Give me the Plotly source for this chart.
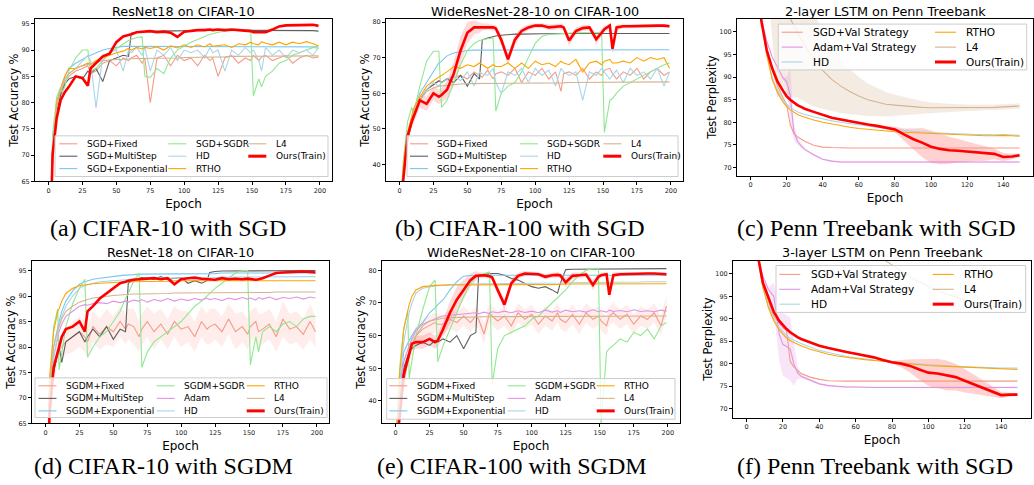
import plotly.graph_objects as go

W, H = 1034, 485

# ---------------- epochs ----------------
CIFAR_EPOCHS = [0, 3, 6, 9, 10, 12, 15, 20, 25, 29,
                31, 35, 40, 45, 50, 55, 59, 61, 65, 69,
                71, 75, 80, 85, 90, 95, 100, 105, 110, 115,
                119, 121, 125, 130, 135, 140, 145, 149, 151, 155,
                157, 160, 165, 170, 175, 180, 185, 190, 195, 199]
PTB_EPOCHS = [0, 3, 6, 9, 12, 15, 18, 20, 22, 24,
              26, 28, 30, 35, 40, 45, 50, 55, 60, 65,
              70, 75, 80, 85, 90, 95, 100, 105, 110, 115,
              120, 125, 130, 135, 140, 145, 149]

# ---------------- (a) ResNet18 / CIFAR-10 / SGD ----------------
A_FIXED = [45, 70, 78, 82, 82.5, 84, 85, 86, 86.5, 87,
           85.5, 86, 87.5, 88, 87, 88.5, 88, 88.5, 89, 87.5,
           88.5, 80, 88.5, 89, 87, 89, 88, 88.5, 87, 89,
           88, 88.5, 85, 88.5, 89, 87.5, 88.5, 88, 89, 88,
           88.7, 89, 88, 88.5, 89, 87.5, 88.5, 89, 88.5, 88.7]
A_MULTI = [45, 70, 78, 81.5, 82, 83.5, 84.5, 85, 84.5, 86,
           85.5, 86.5, 84, 88, 88.5, 89, 88.8, 93.2, 93.4, 93.5,
           93.5, 93.6, 93.6, 93.6, 93.7, 93.7, 93.7, 93.7, 93.8, 93.8,
           93.8, 93.8, 93.8, 93.8, 93.8, 93.8, 93.8, 93.8, 93.8, 93.8,
           93.8, 93.8, 93.8, 93.8, 93.7, 93.7, 93.7, 93.7, 93.7, 93.6]
A_EXP = [45, 72, 80, 83, 83.5, 85, 86.5, 87.5, 88.3, 88.8,
         89, 89.5, 90, 90.3, 90.5, 90.7, 90.7, 90.7, 90.7, 90.7,
         90.7, 90.7, 90.7, 90.7, 90.7, 90.7, 90.7, 90.7, 90.7, 90.7,
         90.7, 90.7, 90.7, 90.7, 90.7, 90.7, 90.7, 90.7, 90.7, 90.7,
         90.7, 90.7, 90.7, 90.7, 90.7, 90.7, 90.6, 90.6, 90.6, 90.6]
A_SGDR = [45, 74, 81, 83, 82, 83, 86, 88.5, 90, 90,
          86, 86.5, 88, 89.5, 90.3, 91.2, 91.8, 92, 92.4, 92.5,
          85, 84.8, 86.5, 85.5, 88.5, 90, 90.8, 91.5, 92, 92.6,
          93, 93.1, 93.4, 93.6, 93.7, 93.8, 93.8, 93.9, 81.3, 84.5,
          83, 85, 86, 87.5, 88, 89, 89.5, 90, 90.5, 90.3]
A_HD = [45, 72, 80, 83, 83.5, 84.5, 85.5, 86.5, 88, 89,
        88, 79, 89, 89.5, 90, 86, 90, 89.5, 90.5, 89,
        90.5, 86, 90, 89, 90.5, 88, 90, 89.5, 90, 88.5,
        90.5, 89.5, 90, 86, 90, 89, 90.5, 89.5, 90, 88,
        86, 90.5, 89, 90, 88.5, 90, 89.5, 90, 89, 90.5]
A_RTHO = [45, 70, 80, 83, 83.5, 85, 86.5, 86.5, 87, 87.5,
          87.3, 88, 88.5, 89, 89.5, 89.8, 90.3, 90, 90.5, 90.2,
          90.5, 90.3, 90.6, 90, 90.8, 90.4, 91, 90.5, 91, 90.6,
          91.2, 90.7, 90.8, 91, 90.5, 91.2, 91, 91.5, 91.2, 91,
          91.6, 91.3, 91, 91.5, 91, 91.5, 91.2, 91.6, 91.2, 90.8]
A_L4 = [45, 68, 79, 82.5, 83, 84.5, 85.5, 86.5, 87, 87.3,
        87.4, 87.6, 88, 88.1, 88.2, 88.3, 88.3, 88.3, 88.4, 88.4,
        88.4, 88.5, 88.5, 88.5, 88.5, 88.5, 88.6, 88.6, 88.6, 88.7,
        88.7, 88.7, 88.7, 88.7, 88.8, 88.8, 88.8, 88.8, 88.8, 88.8,
        88.8, 88.9, 88.9, 88.9, 88.9, 88.9, 88.9, 88.9, 88.9, 88.9]
A_OURS = [40, 70, 77, 80.5, 81, 82, 83, 85, 84.7, 83.2,
          86.5, 87.5, 88.8, 89.3, 91.5, 92.6, 92.8, 93, 93.4, 93.5,
          93.5, 93.6, 93.4, 93.5, 93.3, 92.5, 93.5, 93.7, 93.8, 93.8,
          93.9, 93.8, 93.9, 93.8, 93.9, 93.8, 93.7, 93.6, 93.4, 93.4,
          93.3, 93.4, 93.9, 94.5, 94.7, 94.7, 94.7, 94.7, 94.8, 94.6]

# ---------------- (b) WideResNet / CIFAR-100 / SGD ----------------
B_FIXED = [25, 38, 47, 52, 53, 55, 58, 61, 62.5, 63.5,
           63, 64, 64.5, 65, 64, 66, 65, 64.5, 66.5, 64,
           65.5, 66, 65, 67, 63, 66, 65, 67, 64, 66,
           60.5, 65.5, 66, 65, 67, 64, 66, 65, 66.5, 67,
           65.5, 64, 66, 65, 67, 64, 66, 67, 65, 66]
B_MULTI = [25, 38, 47, 52, 53, 55, 58, 61, 62.5, 63.5,
           63, 64, 63, 65, 62, 65.5, 64, 75, 75.5, 76,
           76.1, 76.3, 76.5, 76.6, 76.6, 76.7, 76.7, 76.7, 76.7, 76.8,
           76.8, 76.8, 76.8, 76.8, 76.8, 76.8, 76.8, 76.8, 76.8, 76.8,
           76.8, 76.8, 76.8, 76.8, 76.8, 76.8, 76.8, 76.8, 76.8, 76.8]
B_EXP = [25, 40, 48, 54, 55, 57, 60, 63, 66, 68.5,
         69, 70.5, 71.3, 71.7, 72, 72.1, 72.1, 72.1, 72.1, 72.1,
         72.1, 72.1, 72.1, 72.1, 72.1, 72.1, 72.1, 72.1, 72.1, 72.1,
         72.2, 72.2, 72.2, 72.2, 72.2, 72.2, 72.2, 72.2, 72.2, 72.2,
         72.2, 72.2, 72.2, 72.2, 72.2, 72.2, 72.2, 72.2, 72.2, 72.2]
B_SGDR = [25, 42, 52, 56, 55, 57, 62, 69, 71.8, 71.8,
          56, 58, 63, 68, 72, 74, 74.8, 75, 75.3, 75.5,
          55, 60, 62, 63, 66, 70, 74, 76, 76.5, 76.6,
          76.7, 76.8, 77, 77, 77, 77, 77, 77, 49, 58,
          58.5, 60, 62, 63, 64, 65, 66, 67, 68, 68.5]
B_HD = [25, 40, 48, 53, 54, 56, 58, 61, 63, 62,
        63, 64, 65, 63.5, 66, 62, 66, 65.5, 65, 67,
        63, 60, 66, 65, 67, 63, 67, 65, 66.5, 62,
        67, 66, 65, 66, 58, 66, 65, 67, 66, 64,
        65, 66.5, 63, 67, 65, 66, 64, 67, 62, 66]
B_RTHO = [25, 40, 49, 54, 55, 57, 59, 62, 63.5, 64.5,
          65, 66, 67.5, 67, 68, 67.5, 68.5, 68, 67, 68,
          67.5, 67.5, 68.5, 67, 68.5, 67, 69, 68, 68.5, 67.5,
          69, 68.5, 68, 69.5, 66, 68.5, 69, 68, 69, 69.5,
          68.5, 68.5, 69, 68.5, 70, 69, 70, 69.5, 70, 67]
B_L4 = [25, 38, 47, 52, 53, 55.5, 58, 60.5, 61.5, 62,
        62.1, 62.3, 62.5, 62.6, 62.7, 62.7, 62.7, 62.7, 62.7, 62.7,
        62.7, 62.7, 62.8, 62.8, 62.8, 62.8, 62.8, 62.9, 62.9, 62.9,
        62.9, 62.9, 63, 63, 63, 63, 63, 63.1, 63.1, 63.1,
        63.1, 63.1, 63.1, 63.2, 63.2, 63.2, 63.2, 63.2, 63.2, 63.2]
B_OURS = [25, 36, 48, 52, 53, 55, 58, 57, 60, 59,
          59.5, 61, 65.5, 72, 77, 78.5, 78.5, 78.6, 78.7, 78.5,
          78.2, 75, 69.5, 75, 77.5, 78.5, 79, 79, 78.5, 78.6,
          78.8, 78.5, 74.8, 77.5, 78.3, 78.5, 75.2, 77, 78, 79,
          72.5, 78.5, 78.8, 78.8, 78.9, 78.9, 78.9, 79, 79, 78.8]
B_OURS_SD = [0, 0, 1, 1.5, 1.5, 2, 2, 2, 2, 2,
             2, 2.5, 3.5, 4, 3, 2, 1.5, 1, 0.8, 0.8,
             1, 1.5, 1.5, 1.5, 1, 0.8, 0.6, 0.6, 0.8, 0.8,
             0.8, 0.8, 1.5, 1, 0.8, 0.8, 1.5, 1, 0.8, 0.6,
             1.5, 0.8, 0.6, 0.5, 0.5, 0.5, 0.5, 0.5, 0.5, 0.5]

# ---------------- (c) 2-layer LSTM / PTB ----------------
C_SGDVAL = [140, 118, 104, 96, 91.5, 88, 85.5, 84, 79.5, 77.5,
            76.8, 76.2, 75.8, 74.9, 74.5, 74.4, 74.3, 74.3, 74.3, 74.3,
            74.3, 74.3, 74.3, 74.3, 74.3, 74.3, 74.3, 74.3, 74.3, 74.3,
            74.3, 74.3, 74.3, 74.3, 74.3, 74.3, 74.3]
C_ADAMVAL = [140, 115, 103, 98, 94.5, 92, 89.8, 89, 86, 78,
             75.8, 74.8, 74, 72.8, 71.8, 71.4, 71.2, 71.2, 71.2, 71.2,
             71.2, 71.2, 71.2, 71.2, 71.2, 71.2, 71.2, 71.2, 71.2, 71.2,
             71.2, 71.2, 71.2, 71.2, 71.2, 71.2, 71.2]
C_ADAMVAL_SD = [0, 0, 0, 0, 0, 0, 0.3, 1, 6, 2,
                0.8, 0.5, 0.3, 0.2, 0.2, 0.2, 0.2, 0.2, 0.2, 0.2,
                0.2, 0.2, 0.2, 0.2, 0.2, 0.2, 0.2, 0.2, 0.2, 0.2,
                0.2, 0.2, 0.2, 0.2, 0.2, 0.2, 0.2]
C_HD = [140, 116, 103, 95, 90, 87, 85, 84, 83.3, 82.8,
        82.3, 82, 81.7, 81.2, 80.7, 80.3, 80, 79.7, 79.4, 79.1,
        78.9, 78.7, 78.4, 78.2, 78, 77.8, 77.7, 77.6, 77.5, 77.4,
        77.4, 77.3, 77.3, 77.2, 77.3, 77.2, 77.1]
C_RTHO = [140, 116, 103, 95, 89.5, 86.5, 84.5, 83.5, 82.8, 82.2,
          81.7, 81.4, 81.1, 80.5, 80, 79.6, 79.2, 78.9, 78.6, 78.4,
          78.2, 78, 77.9, 77.8, 77.7, 77.6, 77.5, 77.4, 77.3, 77.2,
          77.2, 77.1, 77, 77, 77.1, 77, 76.9]
C_L4 = [200, 170, 150, 135, 125, 115, 108, 105, 103, 101.5,
        100, 98.5, 97, 94, 91.5, 89.5, 88, 86.8, 85.8, 85,
        84.5, 84, 83.8, 83.6, 83.4, 83.3, 83.2, 83.2, 83.2, 83.2,
        83.2, 83.2, 83.3, 83.3, 83.4, 83.5, 83.6]
C_L4_SD = [30, 30, 30, 30, 30, 30, 20, 19, 17.5, 16,
           14.5, 13.5, 12.5, 10.5, 8.5, 7, 6, 5, 4.2, 3.6,
           3.1, 2.7, 2.3, 2, 1.7, 1.4, 1.2, 1, 0.9, 0.8,
           0.7, 0.7, 0.6, 0.6, 0.6, 0.6, 0.6]
C_OURS = [140, 115, 102.5, 96, 92, 89, 87, 85.8, 85, 84.3,
          83.8, 83.4, 83, 82.3, 81.6, 81, 80.6, 80.2, 79.8, 79.5,
          79.2, 78.8, 78.4, 77.3, 76.3, 75.5, 74.6, 74.1, 73.8, 73.7,
          73.5, 73.3, 73.1, 73, 72.3, 72.4, 72.7]
C_OURS_SD = [0, 0, 0, 0, 0.2, 0.2, 0.2, 0.2, 0.2, 0.2,
             0.2, 0.2, 0.2, 0.2, 0.2, 0.2, 0.2, 0.2, 0.2, 0.2,
             0.2, 0.3, 0.6, 1.3, 2.3, 3.2, 3.6, 3.4, 3, 2.6,
             2.2, 1.9, 1.6, 1.2, 0.9, 0.6, 0.4]

# ---------------- (d) ResNet-18 / CIFAR-10 / SGDM ----------------
D_FIXED = [45, 68, 75, 79, 79.5, 80, 81, 82, 83, 82,
           81, 84, 82.5, 84, 83, 85, 83.5, 84.5, 84, 82,
           83.5, 85, 83, 84.5, 82.5, 85, 83.5, 84, 82, 85,
           83.5, 84, 84.5, 83, 85.5, 83, 84, 82.5, 84, 85,
           83, 83.5, 84.5, 82, 85.5, 83.5, 84, 82.5, 85, 83]
D_FIXED_SD = [0, 1, 2, 2, 2, 2.5, 2.5, 3, 3, 3,
              3, 3, 3, 3.5, 3, 3, 3, 3, 3.5, 3,
              3, 3, 3.5, 3, 3, 3, 3.5, 3, 3, 3,
              3, 3.5, 3, 3, 3, 3.5, 3, 3, 3, 3,
              3.5, 3, 3, 3, 3.5, 3, 3, 3, 3.5, 3]
D_MULTI = [45, 68, 75, 79, 80, 77, 81, 82, 83, 81,
           82, 83.5, 82, 84, 81.5, 83.5, 83, 92.5, 93.3, 93.5,
           93.6, 93.5, 93.3, 93.8, 93.2, 93.5, 93.6, 92.5, 93, 92.5,
           93, 94.6, 94.8, 94.9, 94.9, 95, 95, 95, 95, 95,
           95, 95, 95, 95, 95, 95, 95, 95, 95, 95]
D_EXP = [45, 70, 80, 84, 85, 87, 89, 91, 92.3, 92.8,
         93, 93.3, 93.5, 93.7, 93.8, 94, 94.1, 94.1, 94.2, 94.3,
         94.3, 94.3, 94.4, 94.4, 94.4, 94.4, 94.4, 94.4, 94.4, 94.4,
         94.4, 94.4, 94.4, 94.5, 94.5, 94.5, 94.5, 94.5, 94.5, 94.5,
         94.5, 94.5, 94.5, 94.5, 94.5, 94.5, 94.5, 94.5, 94.5, 94.5]
D_SGDR = [45, 72, 84, 87.5, 75.5, 79, 84, 88.5, 91.5, 93.3,
          78, 80, 82, 83, 85, 87, 89.5, 90.5, 93, 94.5,
          76, 79, 81, 82, 83, 84, 85, 86.5, 88, 89,
          90, 90.5, 91.5, 92.5, 93.5, 94.5, 95, 95, 76.5, 82,
          79, 83, 84, 83, 84.5, 85, 84, 85.5, 86, 86]
D_ADAM = [45, 70, 78, 82, 83, 84.5, 86, 87, 88, 88.3,
          88.2, 88.5, 88.7, 88.5, 89, 88.7, 89, 88.8, 89.2, 89,
          89.3, 88.8, 89.3, 89, 89.5, 89, 89.4, 89.1, 89.5, 89.2,
          89.6, 89.3, 89.5, 89.1, 89.6, 89.3, 89.7, 89.4, 89.6, 89.2,
          89.7, 89.4, 89.8, 89.3, 89.7, 89.5, 89.8, 89.4, 89.8, 89.6]
D_HD = [45, 70, 78, 83, 84, 86, 88, 90, 91.5, 92,
        92.2, 92.5, 92.8, 92.9, 93, 93.2, 93.3, 93.3, 93.4, 93.4,
        93.4, 93.5, 93.5, 93.5, 93.5, 93.6, 93.6, 93.6, 93.6, 93.6,
        93.6, 93.6, 93.6, 93.7, 93.7, 93.7, 93.7, 93.7, 93.7, 93.7,
        93.7, 93.7, 93.7, 93.7, 93.8, 93.8, 93.8, 93.8, 93.8, 93.8]
D_RTHO = [45, 74, 83, 87, 87.5, 89, 90.5, 91.5, 92, 92.2,
          92.3, 92.4, 92.5, 92.6, 92.7, 92.7, 92.8, 92.8, 92.8, 92.8,
          92.9, 92.9, 92.9, 92.9, 92.9, 93, 93, 93, 93, 93,
          93, 93, 93, 93, 93, 93, 93, 93, 93, 93,
          93, 93, 93, 93, 93, 93, 93, 93, 93, 93]
D_L4 = [45, 72, 80, 83.5, 84, 85.5, 87, 88, 88.8, 89.2,
        89.3, 89.6, 89.8, 90, 90.1, 90.2, 90.3, 90.3, 90.4, 90.4,
        90.4, 90.5, 90.5, 90.5, 90.5, 90.6, 90.6, 90.6, 90.6, 90.6,
        90.6, 90.6, 90.7, 90.7, 90.7, 90.7, 90.7, 90.7, 90.7, 90.7,
        90.7, 90.7, 90.7, 90.8, 90.8, 90.8, 90.8, 90.8, 90.8, 90.8]
D_OURS = [40, 67, 76, 79, 80, 82, 83.5, 84, 85, 83,
          87, 88, 89.5, 90.5, 91.5, 92.5, 92.8, 93, 93.2, 93.3,
          93.3, 93.4, 93.5, 93.3, 93.5, 92.3, 93.3, 93.5, 93.6, 93.4,
          93.3, 93.2, 93.2, 93.5, 93.3, 93.4, 93.3, 93.4, 93.3, 93.2,
          93.3, 93.5, 94, 94.5, 94.6, 94.7, 94.8, 94.8, 94.7, 94.6]

# ---------------- (e) WideResNet / CIFAR-100 / SGDM ----------------
E_FIXED = [25, 40, 50, 54, 55, 57, 60, 62, 63, 64,
           63.5, 63.5, 65, 64, 66, 64, 66, 65, 60.5, 67,
           66, 64.5, 66, 63, 67, 65, 66.5, 63.5, 66, 64.5,
           67, 65, 64, 66.5, 63.5, 67, 65, 66, 64.5, 63,
           66, 67, 65, 66.5, 63.5, 66, 65, 67, 63, 69]
E_FIXED_SD = [0, 2, 3, 3, 3, 3, 3, 3, 3, 3,
              3, 3, 3, 3, 3, 3, 3, 3, 3, 3,
              3, 3, 3, 3, 3, 3, 3, 3, 3, 3,
              3, 3, 3, 3, 3, 3, 3, 3, 3, 3,
              3, 3, 3, 3, 3, 3, 3, 3, 3, 3]
E_MULTI = [25, 40, 50, 54, 55, 56, 57, 58, 57, 58.5,
           58, 59, 58, 60, 56, 60, 61, 78.5, 78.8, 78.9,
           79, 79, 78.5, 77.5, 77, 76, 75, 74.5, 75, 74,
           73, 76, 80.2, 80.3, 80.3, 80.4, 80.4, 80.4, 80.4, 80.5,
           80.5, 80.5, 80.5, 80.5, 80.5, 80.5, 80.5, 80.5, 80.5, 80.5]
E_EXP = [25, 42, 55, 58, 58.5, 60, 62, 64, 67, 68.5,
         69.5, 71, 74, 76.5, 78.2, 78.4, 78.5, 78.5, 78.5, 78.5,
         78.5, 78.5, 78.5, 78.5, 78.5, 78.5, 78.5, 78.5, 78.5, 78.5,
         78.5, 78.5, 78.5, 78.5, 78.5, 78.5, 78.5, 78.5, 78.5, 78.5,
         78.5, 78.5, 78.5, 78.5, 78.5, 78.5, 78.5, 78.5, 78.5, 78.5]
E_SGDR = [25, 50, 62, 67.5, 47, 52, 60, 68, 75, 77,
          52, 57, 62, 67, 72, 76, 78, 78.5, 79, 79.5,
          45, 56, 60, 61, 62, 63, 65, 66, 68, 70,
          71.5, 72.5, 74, 76.5, 78.5, 80, 80.5, 80.6, 33, 55,
          56, 57, 59, 58, 61, 60, 62, 59, 63, 64]
E_ADAM = [25, 42, 52, 56, 57, 59, 61.5, 63.5, 64.5, 65.3,
          65.5, 66, 66.2, 66.5, 66.5, 66.8, 67, 66.7, 67.2, 66.8,
          67.3, 67, 67.5, 67, 67.6, 67.1, 67.5, 67, 67.8, 67.2,
          67.6, 67.1, 67.8, 67.3, 67.6, 67.2, 67.9, 67.3, 67.6, 67.2,
          67.8, 67.4, 67.7, 67.3, 67.9, 67.4, 67.6, 67.3, 67.8, 67.5]
E_HD = [25, 45, 58, 65, 67, 70, 73, 74.5, 75, 75.2,
        75.3, 75.5, 75.6, 75.7, 75.8, 75.8, 75.8, 75.8, 75.9, 75.9,
        75.9, 75.9, 75.9, 76, 76, 76, 76, 76, 76.1, 76.1,
        76.1, 76.1, 76.2, 76.2, 76.2, 76.2, 76.3, 76.3, 76.3, 76.3,
        76.3, 76.3, 76.4, 76.4, 76.4, 76.4, 76.5, 76.5, 76.5, 76.5]
E_RTHO = [25, 48, 62, 68, 69.5, 72, 74, 75, 75.3, 75.4,
          75.4, 75.5, 75.5, 75.5, 75.5, 75.5, 75.6, 75.6, 75.6, 75.6,
          75.6, 75.6, 75.6, 75.7, 75.7, 75.7, 75.7, 75.7, 75.7, 75.7,
          75.7, 75.7, 75.8, 75.8, 75.8, 75.8, 75.8, 75.8, 75.8, 75.8,
          75.8, 75.8, 75.9, 75.9, 75.9, 75.9, 75.9, 75.9, 75.9, 75.9]
E_L4 = [25, 35, 45, 52, 54, 57, 60, 63, 64.5, 64.9,
        65, 65.3, 65.5, 65.6, 65.7, 65.7, 65.8, 65.8, 65.8, 65.8,
        65.8, 65.8, 65.9, 65.9, 65.9, 65.9, 66, 66, 66, 66,
        66, 66, 66, 66, 66, 66, 66, 66, 66, 66,
        66, 66, 66, 66, 66, 66, 66, 66, 66, 66]
E_OURS = [25, 35, 48, 53, 54, 57.5, 58, 58, 59, 58,
          58.5, 62, 67, 71, 74, 77, 78.3, 78.4, 78.5, 78.2,
          77.8, 74, 69.5, 76, 78.3, 79, 79, 78.8, 78, 78.5,
          78.6, 78.4, 76.3, 78.3, 78.5, 78.7, 75.5, 78, 78.5, 78.8,
          72.5, 78.5, 78.8, 78.9, 78.9, 79, 79, 79, 79, 78.8]
E_OURS_SD = [0, 0, 1, 1.5, 1.5, 2, 2, 2, 2, 2,
             2, 2.5, 3.5, 4, 3, 2, 1.5, 1, 0.8, 0.8,
             1, 1.5, 1.5, 1.5, 1, 0.8, 0.6, 0.6, 0.8, 0.8,
             0.8, 0.8, 1.5, 1, 0.8, 0.8, 1.5, 1, 0.8, 0.6,
             1.5, 0.8, 0.6, 0.5, 0.5, 0.5, 0.5, 0.5, 0.5, 0.5]

# ---------------- (f) 3-layer LSTM / PTB ----------------
F_SGDVAL = [140, 118, 105, 98, 94, 90.5, 89, 88, 87.5, 80.5,
            79.3, 78.5, 77.8, 77, 76.5, 76.2, 76.1, 76.1, 76.1, 76.1,
            76.1, 76.1, 76.1, 76.1, 76.1, 76.1, 76.1, 76.1, 76.1, 76.1,
            76.1, 76.1, 76.1, 76.1, 76.1, 76.1, 76.1]
F_ADAMVAL = [140, 115, 104, 99.5, 96.5, 95, 86.5, 84.3, 83.8, 83.3,
             80, 78, 77.2, 76.3, 75.5, 75.1, 74.9, 74.8, 74.8, 74.7,
             74.7, 74.7, 74.7, 74.7, 74.7, 74.7, 74.7, 74.7, 74.7, 74.7,
             74.7, 74.7, 74.7, 74.7, 74.7, 74.7, 74.7]
F_ADAMVAL_SD = [0, 0, 0, 0, 0.5, 3, 6, 7, 7, 7,
                5, 1.5, 0.5, 0.3, 0.2, 0.2, 0.2, 0.2, 0.2, 0.2,
                0.2, 0.2, 0.2, 0.2, 0.2, 0.2, 0.2, 0.2, 0.2, 0.2,
                0.2, 0.2, 0.2, 0.2, 0.2, 0.2, 0.2]
F_HD = [140, 117, 104, 97, 93, 90, 88, 87, 86.2, 85.6,
        85.2, 84.8, 84.5, 83.7, 83, 82.5, 82, 81.6, 81.3, 81,
        80.8, 80.6, 80.4, 80.2, 80, 79.9, 79.8, 79.6, 79.5, 79.4,
        79.3, 79.2, 79.1, 79, 79, 79, 79]
F_RTHO = [140, 117, 104, 97, 92.5, 89.5, 87.5, 86.5, 85.7, 85.1,
          84.7, 84.3, 84, 83.2, 82.6, 82.1, 81.7, 81.4, 81.1, 80.9,
          80.7, 80.5, 80.3, 80.1, 79.9, 79.7, 79.6, 79.5, 79.4, 79.3,
          79.2, 79.1, 79, 78.9, 78.8, 78.8, 78.7]
F_L4 = [250, 220, 200, 185, 170, 160, 150, 145, 140, 136,
        132, 129, 126, 120, 116, 113, 110.5, 108.5, 106.8, 105.3,
        104.2, 103.3, 102, 100.6, 99.3, 98.2, 97.2, 96.3, 95.5, 94.8,
        94.2, 93.7, 93.2, 92.8, 92.5, 92.2, 92]
F_OURS = [140, 116, 104.5, 98, 94.8, 91.5, 89.5, 88.5, 87.7, 87,
          86.4, 85.9, 85.5, 84.7, 84, 83.5, 83, 82.6, 82.2, 81.8,
          81.4, 80.8, 80.3, 80, 79.5, 78.7, 78, 77.8, 77.4, 77,
          76.2, 75.4, 74.6, 73.8, 73, 73.1, 73.1]
F_OURS_SD = [0, 0, 0, 0, 0.2, 0.2, 0.2, 0.2, 0.2, 0.2,
             0.2, 0.2, 0.2, 0.2, 0.2, 0.2, 0.2, 0.2, 0.2, 0.2,
             0.2, 0.2, 0.3, 0.8, 1.5, 2.3, 3, 3.3, 3.3, 3,
             2.6, 2.2, 1.7, 1.2, 0.7, 0.4, 0.3]

# ---------------- labels ----------------
TITLES = ["ResNet18 on CIFAR-10", "WideResNet-28-10 on CIFAR-100", "2-layer LSTM on Penn Treebank",
          "ResNet-18 on CIFAR-10", "WideResNet-28-10 on CIFAR-100", "3-layer LSTM on Penn Treebank"]
CAPTIONS = ["(a) CIFAR-10 with SGD", "(b) CIFAR-100 with SGD", "(c) Penn Treebank with SGD",
            "(d) CIFAR-10 with SGDM", "(e) CIFAR-100 with SGDM", "(f) Penn Treebank with SGD"]
CIFAR_XTICKS = [0, 25, 50, 75, 100, 125, 150, 175, 200]
PTB_XTICKS = [0, 20, 40, 60, 80, 100, 120, 140]

# ---------------- styles ----------------
COL_FIX = "#f59a86"
COL_MUL = "#5e5e5e"
COL_EXP = "#7cc6ee"
COL_SGDR = "#8fe88f"
COL_HD = "#a9d5e8"
COL_RTHO = "#ffa500"
COL_L4 = "#d4b48f"
COL_ADAM = "#e194e1"
COL_OUR = "#ff0000"
BAND_OUR = "rgba(255,0,0,0.15)"
BAND_FIX = "rgba(250,128,114,0.14)"

for arr in [A_FIXED, A_MULTI, A_EXP, A_SGDR, A_HD, A_RTHO, A_L4, A_OURS,
            B_FIXED, B_MULTI, B_EXP, B_SGDR, B_HD, B_RTHO, B_L4, B_OURS, B_OURS_SD,
            D_FIXED, D_FIXED_SD, D_MULTI, D_EXP, D_SGDR, D_ADAM, D_HD, D_RTHO, D_L4, D_OURS,
            E_FIXED, E_FIXED_SD, E_MULTI, E_EXP, E_SGDR, E_ADAM, E_HD, E_RTHO, E_L4, E_OURS, E_OURS_SD]:
    assert len(arr) == len(CIFAR_EPOCHS), len(arr)
for arr in [C_SGDVAL, C_ADAMVAL, C_ADAMVAL_SD, C_HD, C_RTHO, C_L4, C_L4_SD, C_OURS, C_OURS_SD,
            F_SGDVAL, F_ADAMVAL, F_ADAMVAL_SD, F_HD, F_RTHO, F_L4, F_OURS, F_OURS_SD]:
    assert len(arr) == len(PTB_EPOCHS), len(arr)

# series: (name, x, y, color, width, sd, band_rgba)
PANELS = [
    dict(box=(35, 19, 332, 183), xr=[-9.95, 208.95], yr=[65, 95.94], yt=[65, 70, 75, 80, 85, 90, 95],
         xt=CIFAR_XTICKS, ytitle="Test Accuracy %", ty=11.7, cap=(168, 230),
         series=[("SGD+Fixed", CIFAR_EPOCHS, A_FIXED, COL_FIX, 1.1, None, None),
                 ("SGD+MultiStep", CIFAR_EPOCHS, A_MULTI, COL_MUL, 1.1, None, None),
                 ("SGD+Exponential", CIFAR_EPOCHS, A_EXP, COL_EXP, 1.1, None, None),
                 ("SGD+SGDR", CIFAR_EPOCHS, A_SGDR, COL_SGDR, 1.1, None, None),
                 ("HD", CIFAR_EPOCHS, A_HD, COL_HD, 1.1, None, None),
                 ("RTHO", CIFAR_EPOCHS, A_RTHO, COL_RTHO, 1.1, None, None),
                 ("L4", CIFAR_EPOCHS, A_L4, COL_L4, 1.1, None, None),
                 ("Ours(Train)", CIFAR_EPOCHS, A_OURS, COL_OUR, 2.6, None, None)],
         leg=dict(box=(55, 137, 328, 178), cols=[59.3, 168.3, 248.3], rows=[145, 157.5, 170], fs=9,
                  grid=[["SGD+Fixed", "SGD+MultiStep", "SGD+Exponential"], ["SGD+SGDR", "HD", "RTHO"],
                        ["L4", "Ours(Train)"]])),
    dict(box=(386, 19, 683, 183), xr=[-9.95, 208.95], yr=[35.2, 80.9], yt=[40, 50, 60, 70, 80],
         xt=CIFAR_XTICKS, ytitle="Test Accuracy %", ty=11.7, cap=(520, 230),
         series=[("SGD+Fixed", CIFAR_EPOCHS, B_FIXED, COL_FIX, 1.1, None, None),
                 ("SGD+MultiStep", CIFAR_EPOCHS, B_MULTI, COL_MUL, 1.1, None, None),
                 ("SGD+Exponential", CIFAR_EPOCHS, B_EXP, COL_EXP, 1.1, None, None),
                 ("SGD+SGDR", CIFAR_EPOCHS, B_SGDR, COL_SGDR, 1.1, None, None),
                 ("HD", CIFAR_EPOCHS, B_HD, COL_HD, 1.1, None, None),
                 ("RTHO", CIFAR_EPOCHS, B_RTHO, COL_RTHO, 1.1, None, None),
                 ("L4", CIFAR_EPOCHS, B_L4, COL_L4, 1.1, None, None),
                 ("Ours(Train)", CIFAR_EPOCHS, B_OURS, COL_OUR, 2.6, B_OURS_SD, BAND_OUR)],
         leg=dict(box=(407, 137, 678, 178), cols=[410, 520, 603.3], rows=[145, 157.5, 170], fs=9,
                  grid=[["SGD+Fixed", "SGD+MultiStep", "SGD+Exponential"], ["SGD+SGDR", "HD", "RTHO"],
                        ["L4", "Ours(Train)"]])),
    dict(box=(737, 19, 1033, 177), xr=[-7.45, 156.45], yr=[68.2, 102.9], yt=[70, 75, 80, 85, 90, 95, 100],
         xt=PTB_XTICKS, ytitle="Test Perplexity", ty=11.7, cap=(876.5, 230),
         series=[("L4", PTB_EPOCHS, C_L4, COL_L4, 1.1, C_L4_SD, "rgba(210,180,140,0.25)"),
                 ("SGD+Val Strategy", PTB_EPOCHS, C_SGDVAL, COL_FIX, 1.1, None, None),
                 ("Adam+Val Strategy", PTB_EPOCHS, C_ADAMVAL, COL_ADAM, 1.1, C_ADAMVAL_SD, "rgba(218,112,214,0.18)"),
                 ("HD", PTB_EPOCHS, C_HD, COL_HD, 1.1, None, None),
                 ("RTHO", PTB_EPOCHS, C_RTHO, COL_RTHO, 1.1, None, None),
                 ("Ours(Train)", PTB_EPOCHS, C_OURS, COL_OUR, 2.6, C_OURS_SD, "rgba(255,0,0,0.18)")],
         leg=dict(box=(778.3, 24.3, 1026.7, 70.5), cols=[781.7, 935], rows=[32.5, 47.5, 62.5], fs=10.5,
                  grid=[["SGD+Val Strategy", "Adam+Val Strategy", "HD"], ["RTHO", "L4", "Ours(Train)"]])),
    dict(box=(32, 263, 329, 427), xr=[-9.95, 208.95], yr=[65, 96.9], yt=[65, 70, 75, 80, 85, 90, 95],
         xt=CIFAR_XTICKS, ytitle="Test Accuracy %", ty=255, cap=(163, 470),
         series=[("SGDM+Fixed", CIFAR_EPOCHS, D_FIXED, COL_FIX, 1.1, D_FIXED_SD, BAND_FIX),
                 ("SGDM+MultiStep", CIFAR_EPOCHS, D_MULTI, COL_MUL, 1.1, None, None),
                 ("SGDM+Exponential", CIFAR_EPOCHS, D_EXP, COL_EXP, 1.1, None, None),
                 ("SGDM+SGDR", CIFAR_EPOCHS, D_SGDR, COL_SGDR, 1.1, None, None),
                 ("Adam", CIFAR_EPOCHS, D_ADAM, COL_ADAM, 1.1, None, None),
                 ("HD", CIFAR_EPOCHS, D_HD, COL_HD, 1.1, None, None),
                 ("RTHO", CIFAR_EPOCHS, D_RTHO, COL_RTHO, 1.1, None, None),
                 ("L4", CIFAR_EPOCHS, D_L4, COL_L4, 1.1, None, None),
                 ("Ours(Train)", CIFAR_EPOCHS, D_OURS, COL_OUR, 2.6, None, None)],
         leg=dict(box=(35, 381, 327, 421), cols=[38.5, 156.7, 246.7], rows=[389, 401.7, 414.3], fs=9,
                  grid=[["SGDM+Fixed", "SGDM+MultiStep", "SGDM+Exponential"], ["SGDM+SGDR", "Adam", "HD"],
                        ["RTHO", "L4", "Ours(Train)"]])),
    dict(box=(382, 263, 680, 427), xr=[-9.95, 208.95], yr=[33.1, 82.9], yt=[40, 50, 60, 70, 80],
         xt=CIFAR_XTICKS, ytitle="Test Accuracy %", ty=255, cap=(512, 470),
         series=[("SGDM+Fixed", CIFAR_EPOCHS, E_FIXED, COL_FIX, 1.1, E_FIXED_SD, BAND_FIX),
                 ("SGDM+MultiStep", CIFAR_EPOCHS, E_MULTI, COL_MUL, 1.1, None, None),
                 ("SGDM+Exponential", CIFAR_EPOCHS, E_EXP, COL_EXP, 1.1, None, None),
                 ("SGDM+SGDR", CIFAR_EPOCHS, E_SGDR, COL_SGDR, 1.1, None, None),
                 ("Adam", CIFAR_EPOCHS, E_ADAM, COL_ADAM, 1.1, None, None),
                 ("HD", CIFAR_EPOCHS, E_HD, COL_HD, 1.1, None, None),
                 ("RTHO", CIFAR_EPOCHS, E_RTHO, COL_RTHO, 1.1, None, None),
                 ("L4", CIFAR_EPOCHS, E_L4, COL_L4, 1.1, None, None),
                 ("Ours(Train)", CIFAR_EPOCHS, E_OURS, COL_OUR, 2.6, E_OURS_SD, BAND_OUR)],
         leg=dict(box=(386.7, 381.7, 675, 422.7), cols=[389.3, 507.7, 596.7], rows=[389, 401.7, 414.3], fs=9,
                  grid=[["SGDM+Fixed", "SGDM+MultiStep", "SGDM+Exponential"], ["SGDM+SGDR", "Adam", "HD"],
                        ["RTHO", "L4", "Ours(Train)"]])),
    dict(box=(733, 263, 1031, 421), xr=[-7.45, 156.45], yr=[68.0, 102.9], yt=[70, 75, 80, 85, 90, 95, 100],
         xt=PTB_XTICKS, ytitle="Test Perplexity", ty=255, cap=(875, 470),
         series=[("L4", PTB_EPOCHS, F_L4, COL_L4, 1.1, None, None),
                 ("SGD+Val Strategy", PTB_EPOCHS, F_SGDVAL, COL_FIX, 1.1, None, None),
                 ("Adam+Val Strategy", PTB_EPOCHS, F_ADAMVAL, COL_ADAM, 1.1, F_ADAMVAL_SD, "rgba(218,112,214,0.18)"),
                 ("HD", PTB_EPOCHS, F_HD, COL_HD, 1.1, None, None),
                 ("RTHO", PTB_EPOCHS, F_RTHO, COL_RTHO, 1.1, None, None),
                 ("Ours(Train)", PTB_EPOCHS, F_OURS, COL_OUR, 2.6, F_OURS_SD, "rgba(255,0,0,0.18)")],
         leg=dict(box=(776, 267.7, 1025.7, 315), cols=[779.3, 932.7], rows=[276.7, 291.7, 306.7], fs=10.5,
                  grid=[["SGD+Val Strategy", "Adam+Val Strategy", "HD"], ["RTHO", "L4", "Ours(Train)"]])),
]


def fx(p):
    return p / W


def fy(p):
    return 1 - p / H


fig = go.Figure()
shapes, annotations = [], []
layout = dict(width=W, height=H, margin=dict(l=0, r=0, t=0, b=0), paper_bgcolor="white",
              plot_bgcolor="white", showlegend=False, font=dict(family="DejaVu Sans", color="black"))

AX = dict(showline=True, mirror=True, linecolor="black", linewidth=1, ticks="outside", ticklen=3,
          tickwidth=0.8, tickcolor="black", showgrid=False, zeroline=False,
          tickfont=dict(family="DejaVu Sans", size=6.5, color="#222222"))

for k, P in enumerate(PANELS, start=1):
    xa = "x" if k == 1 else f"x{k}"
    ya = "y" if k == 1 else f"y{k}"
    L, T, R, B = P["box"]
    layout["xaxis" if k == 1 else f"xaxis{k}"] = dict(
        AX, domain=[fx(L), fx(R)], range=P["xr"], tickvals=P["xt"], anchor=ya,
        title=dict(text="Epoch", font=dict(size=12, family="DejaVu Sans"), standoff=5))
    layout["yaxis" if k == 1 else f"yaxis{k}"] = dict(
        AX, domain=[fy(B), fy(T)], range=P["yr"], tickvals=P["yt"], anchor=xa,
        title=dict(text=P["ytitle"], font=dict(size=11.5, family="DejaVu Sans"), standoff=0))
    colors = {}
    for name, xs, ys, col, w, sd, band in P["series"]:
        colors[name] = (col, w)
        if sd is not None:
            hi = [v + s for v, s in zip(ys, sd)]
            lo = [v - s for v, s in zip(ys, sd)]
            fig.add_trace(go.Scatter(x=list(xs) + list(xs)[::-1], y=hi + lo[::-1], fill="toself",
                                     fillcolor=band, line=dict(width=0), mode="lines",
                                     xaxis=xa, yaxis=ya, hoverinfo="skip", showlegend=False))
    for name, xs, ys, col, w, sd, band in P["series"]:
        fig.add_trace(go.Scatter(x=xs, y=ys, mode="lines", name=name, line=dict(color=col, width=w),
                                 xaxis=xa, yaxis=ya, showlegend=False))
    annotations.append(dict(x=fx((L + R) / 2), y=fy(P["ty"]), xref="paper", yref="paper", text=TITLES[k - 1],
                            showarrow=False, xanchor="center", yanchor="middle",
                            font=dict(size=12.8, family="DejaVu Sans", color="black")))
    cx, cy = P["cap"]
    annotations.append(dict(x=fx(cx), y=fy(cy), xref="paper", yref="paper", text=CAPTIONS[k - 1],
                            showarrow=False, xanchor="center", yanchor="middle",
                            font=dict(size=24, family="Liberation Serif", color="black")))
    lg = P["leg"]
    bx0, by0, bx1, by1 = lg["box"]
    shapes.append(dict(type="rect", xref="paper", yref="paper", x0=fx(bx0), x1=fx(bx1), y0=fy(by1), y1=fy(by0),
                       fillcolor="rgba(255,255,255,0.8)", line=dict(color="#cccccc", width=1), layer="above"))
    hl = 2.0 * lg["fs"]
    for ci, colnames in enumerate(lg["grid"]):
        x0 = lg["cols"][ci]
        for ri, nm in enumerate(colnames):
            yy = lg["rows"][ri]
            col, w = colors[nm]
            shapes.append(dict(type="line", xref="paper", yref="paper", x0=fx(x0), x1=fx(x0 + hl),
                               y0=fy(yy), y1=fy(yy), line=dict(color=col, width=w + 0.4 if w > 2 else w),
                               layer="above"))
            annotations.append(dict(x=fx(x0 + hl + 0.8 * lg["fs"]), y=fy(yy), xref="paper", yref="paper",
                                    text=nm, showarrow=False, xanchor="left", yanchor="middle",
                                    font=dict(size=lg["fs"], family="DejaVu Sans", color="black")))

layout["shapes"] = shapes
layout["annotations"] = annotations
fig.update_layout(**layout)
fig.write_html("out.html", config={"displayModeBar": False},
               post_script="document.body.style.margin='0';document.body.style.overflow='hidden';")
